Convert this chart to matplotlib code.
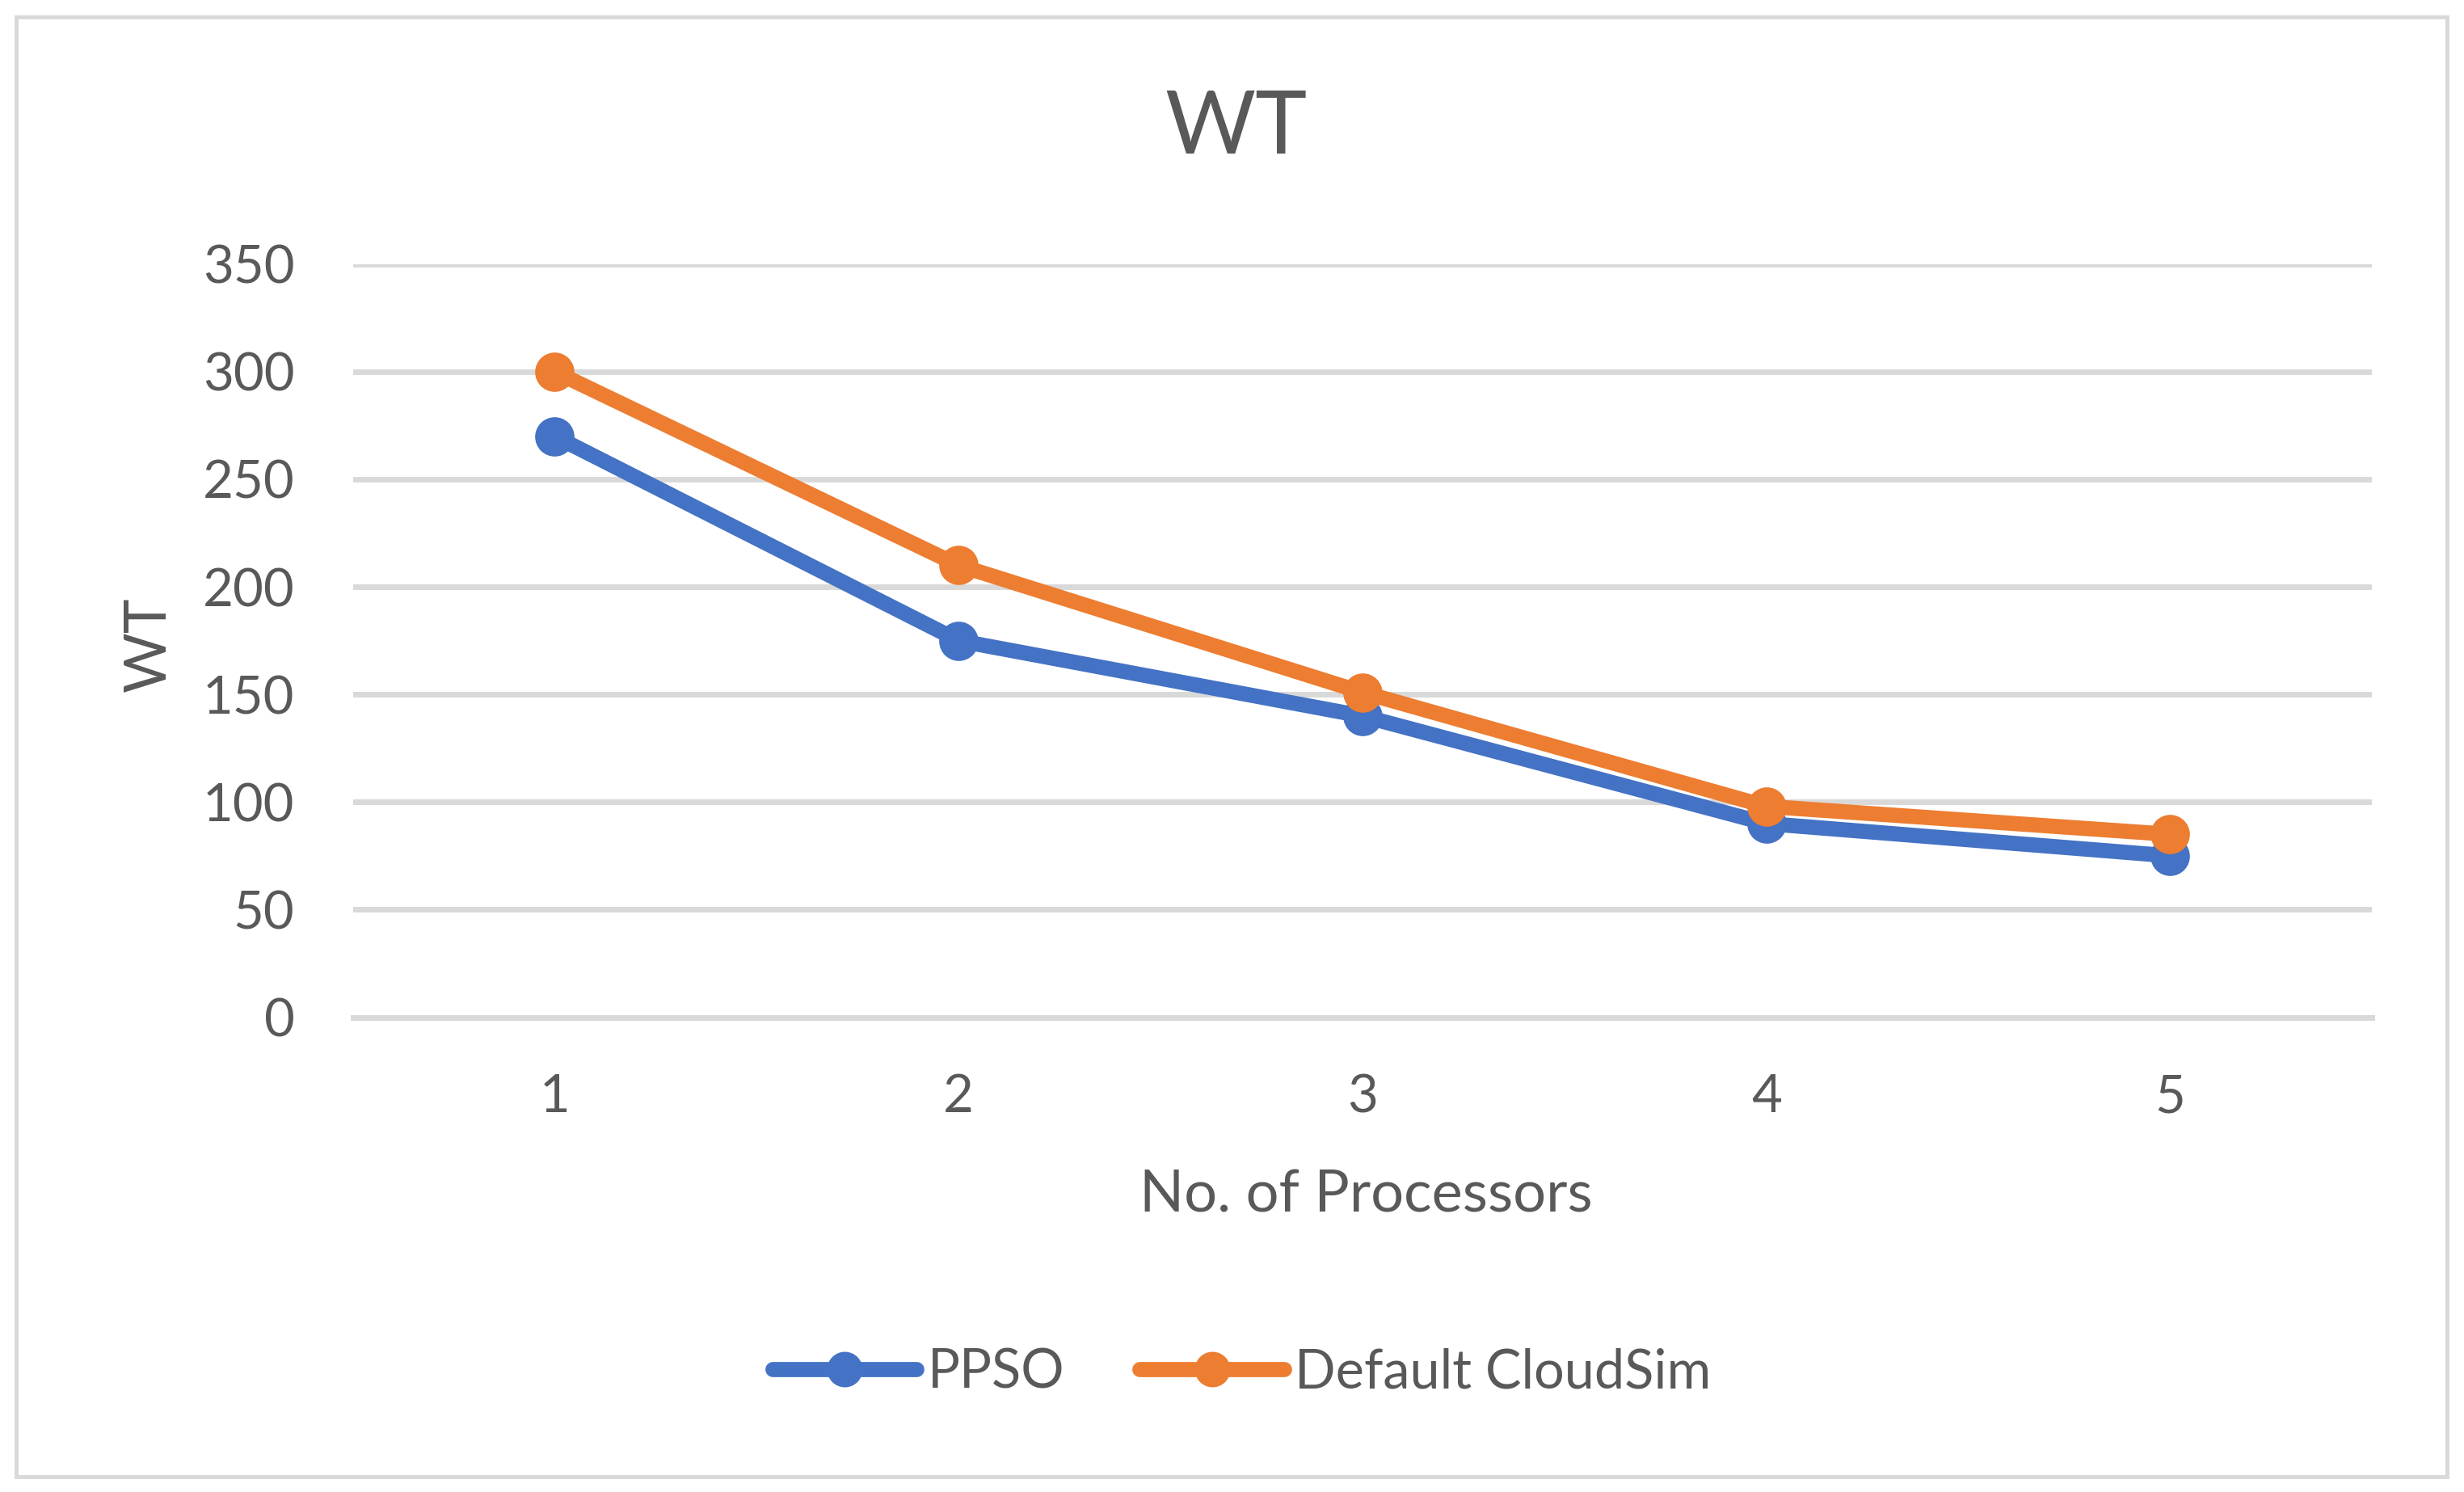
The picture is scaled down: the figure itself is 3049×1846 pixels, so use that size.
import matplotlib
matplotlib.use("Agg")
import matplotlib.pyplot as plt
from matplotlib.patches import Rectangle

processors = [1, 2, 3, 4, 5]
ppso = [270, 175, 140, 90, 75]
default_cloudsim = [300, 210, 151, 98, 85]
series_names = ["PPSO", "Default CloudSim"]
y_ticks = [0, 50, 100, 150, 200, 250, 300, 350]

plt.rcParams['font.family'] = ['Lato', 'DejaVu Sans']
TXT = '#595959'
BLUE = '#4472C4'
ORANGE = '#ED7D31'
GRID = '#D9D9D9'

DPI = 100
fig = plt.figure(figsize=(30.49, 18.46), dpi=DPI)
ax = fig.add_axes([0.1432, 0.3182, 0.9627 - 0.1432, 0.823 - 0.3182])

lw = 13.5
ms = 34
ax.plot(processors, ppso, color=BLUE, lw=lw, marker='o', ms=ms,
        label=series_names[0], solid_capstyle='round', solid_joinstyle='round', zorder=3)
ax.plot(processors, default_cloudsim, color=ORANGE, lw=lw, marker='o', ms=ms,
        label=series_names[1], solid_capstyle='round', solid_joinstyle='round', zorder=4)

ax.set_xlim(0.5, 5.5)
ax.set_ylim(0, 350)
ax.set_yticks(y_ticks)
ax.set_xticks(processors)
ax.set_xticklabels([str(p) for p in processors])
ax.yaxis.grid(True, color=GRID, lw=5, zorder=0)
ax.set_axisbelow(True)
for s in ['top', 'right', 'left']:
    ax.spines[s].set_visible(False)
ax.spines['bottom'].set_color(GRID)
ax.spines['bottom'].set_linewidth(5)
ax.tick_params(axis='both', length=0, labelsize=47, colors=TXT)
ax.tick_params(axis='y', pad=52)
ax.tick_params(axis='x', pad=50)

fig.text(0.0606, 0.568, "WT", rotation=90, ha='center', va='center', fontsize=52, color=TXT)
fig.text(0.5545, 0.199, "No. of Processors", ha='center', va='center', fontsize=52, color=TXT)
fig.text(0.5015, 0.9136, "WT", ha='center', va='center', fontsize=78, color=TXT)

leg = fig.legend(loc='center', bbox_to_anchor=(0.504, 0.080), ncol=2, frameon=False,
                 fontsize=48, handlelength=2.68, handletextpad=0.2, columnspacing=1.4,
                 labelcolor=TXT, markerscale=0.9)

fig.patches.append(Rectangle((0.0064, 0.0105), 0.9930 - 0.0064, 0.9884 - 0.0105,
                             transform=fig.transFigure, fill=False, edgecolor=GRID,
                             lw=3.5, zorder=0))

fig.savefig("out.png", dpi=DPI, facecolor='white')
